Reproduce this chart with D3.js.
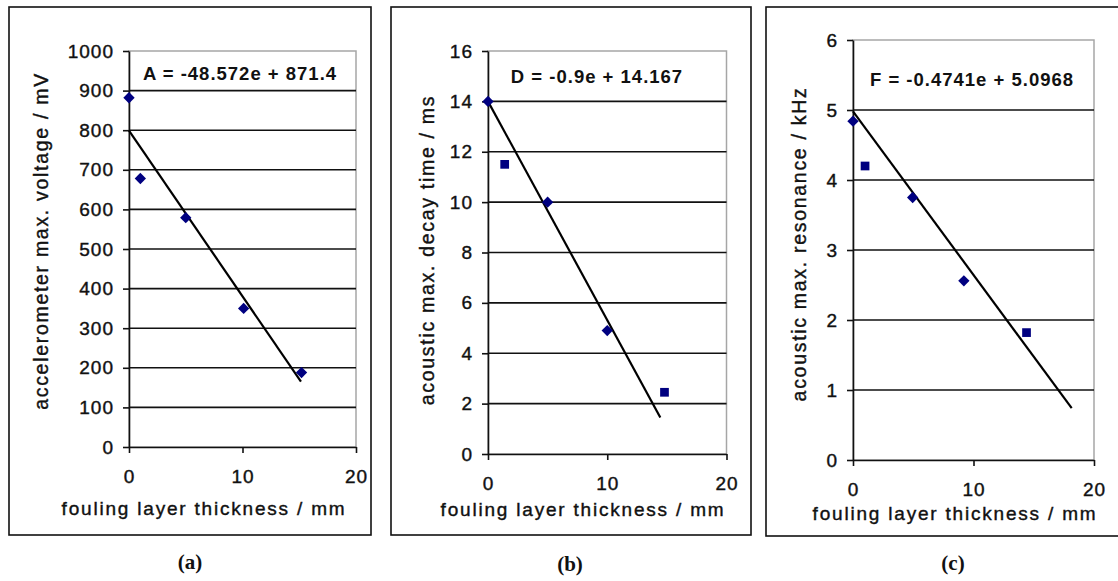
<!DOCTYPE html>
<html>
<head>
<meta charset="utf-8">
<script src="https://cdn.jsdelivr.net/npm/d3@7"></script>
<style>
body{margin:0;background:#fff;}
text{font-family:"Liberation Sans",Arial,sans-serif;fill:#111;}
</style>
</head>
<body>
<script>
// values
var xTicks = [0, 10, 20];

var thicknessA = [0, 1, 5, 10.1, 15.2];
var voltage = [882, 678, 579, 350, 188];
var shapesA = ['diamond', 'diamond', 'diamond', 'diamond', 'diamond'];
var trendAx = [0, 15.15];
var trendAy = [799, 165];
var yTicksA = [0, 100, 200, 300, 400, 500, 600, 700, 800, 900, 1000];

var thicknessB = [0, 1.4, 5, 10, 14.8];
var decayTime = [14, 11.5, 10, 4.9, 2.45];
var shapesB = ['diamond', 'square', 'diamond', 'diamond', 'square'];
var trendBx = [0, 14.45];
var trendBy = [14, 1.45];
var yTicksB = [0, 2, 4, 6, 8, 10, 12, 14, 16];

var thicknessC = [0, 1.0, 4.95, 9.2, 14.4];
var resonance = [4.84, 4.2, 3.75, 2.56, 1.82];
var shapesC = ['diamond', 'square', 'diamond', 'diamond', 'square'];
var trendCx = [0, 18.15];
var trendCy = [4.98, 0.74];
var yTicksC = [0, 1, 2, 3, 4, 5, 6];

var xTitle = 'fouling layer thickness / mm';

//layout of each panel
var panels = [
  {box: [9, 7, 371, 535], plot: [129, 51, 356, 447], xs: thicknessA, ys: voltage, shapes: shapesA,
   tx: trendAx, ty: trendAy, yTicks: yTicksA, eq: 'A = -48.572e + 871.4', eqPos: [240, 80],
   yTitle: 'accelerometer max. voltage / mV', yTitlePos: [48, 241], xTitlePos: [204, 515], xPad: 17,
   caption: '(a)', capPos: [190, 569]},
  {box: [391, 7, 751, 535], plot: [488, 51, 726.5, 454], xs: thicknessB, ys: decayTime, shapes: shapesB,
   tx: trendBx, ty: trendBy, yTicks: yTicksB, eq: 'D = -0.9e + 14.167', eqPos: [597, 83],
   yTitle: 'acoustic max. decay time / ms', yTitlePos: [434, 250], xTitlePos: [583, 515.5], xPad: 17,
   caption: '(b)', capPos: [570, 571]},
  {box: [766, 7, 1130, 536], plot: [853, 40, 1094, 460], xs: thicknessC, ys: resonance, shapes: shapesC,
   tx: trendCx, ty: trendCy, yTicks: yTicksC, eq: 'F = -0.4741e + 5.0968', eqPos: [972, 86],
   yTitle: 'acoustic max. resonance / kHz', yTitlePos: [806, 244], xTitlePos: [955, 520], xPad: 16.5,
   caption: '(c)', capPos: [953, 570]}
];

var svg = d3.select("body").append("svg")
  .attr("width", 1118)
  .attr("height", 581);

var markerPath = function(shape){
  if (shape === 'square')
    return d3.symbol().type(d3.symbolSquare).size(76)();
  return d3.symbol().type(d3.symbolSquare).size(64)();
};

//regular text in the picture is blurred and heavy, a thin stroke thickens it
var heavy = function(sel){
  sel.style("fill", "#111").style("stroke", "#111").style("stroke-width", 0.4);
};

var draw_panel = function(p){
  var g = svg.append("g");
  var left = p.plot[0], top = p.plot[1], right = p.plot[2], bottom = p.plot[3];

  g.append("rect")
    .attr("x", p.box[0]).attr("y", p.box[1])
    .attr("width", p.box[2] - p.box[0]).attr("height", p.box[3] - p.box[1])
    .style("fill", "none").style("stroke", "#111").style("stroke-width", 1.6);

  var x = d3.scaleLinear().domain([0, 20]).range([left, right]);
  var yMax = p.yTicks[p.yTicks.length - 1];
  var y = d3.scaleLinear().domain([0, yMax]).range([bottom, top]);

  //plot area border (grey)
  g.append("rect")
    .attr("x", left).attr("y", top)
    .attr("width", right - left).attr("height", bottom - top)
    .style("fill", "none").style("stroke", "#a6a6a6").style("stroke-width", 1.5);

  //gridlines
  g.selectAll("line.grid")
    .data(p.yTicks.filter(function(d){ return d > 0 && d < yMax; }))
    .enter()
    .append("line")
    .attr("class", "grid")
    .attr("x1", left).attr("x2", right)
    .attr("y1", function(d){ return y(d); })
    .attr("y2", function(d){ return y(d); })
    .style("stroke", "#111").style("stroke-width", 1.6);

  var yAxis = g.append("g")
    .attr("transform", "translate(" + left + ",0)")
    .call(d3.axisLeft(y).tickValues(p.yTicks).tickFormat(d3.format("d"))
      .tickSize(6).tickPadding(9).tickSizeOuter(0));

  var xAxis = g.append("g")
    .attr("transform", "translate(0," + bottom + ")")
    .call(d3.axisBottom(x).tickValues(xTicks).tickFormat(d3.format("d"))
      .tickSize(6).tickPadding(p.xPad).tickSizeOuter(0));

  [yAxis, xAxis].forEach(function(ax){
    ax.select(".domain").style("stroke", "#111").style("stroke-width", 1.6);
    ax.selectAll(".tick line").style("stroke", "#111").style("stroke-width", 1.6);
    ax.selectAll(".tick text")
      .attr("font-family", null)
      .style("font-size", "19px")
      .style("letter-spacing", "1px")
      .call(heavy);
  });

  //trend line
  var line = d3.line()
    .x(function(d){ return x(d[0]); })
    .y(function(d){ return y(d[1]); });
  g.append("path")
    .datum(d3.zip(p.tx, p.ty))
    .attr("d", line)
    .style("fill", "none").style("stroke", "#000").style("stroke-width", 2.2);

  //markers
  g.selectAll("path.pt")
    .data(d3.range(p.xs.length))
    .enter()
    .append("path")
    .attr("class", "pt")
    .attr("d", function(i){ return markerPath(p.shapes[i]); })
    .attr("transform", function(i){
      var t = "translate(" + x(p.xs[i]) + "," + y(p.ys[i]) + ")";
      return p.shapes[i] === 'diamond' ? t + " rotate(45)" : t;
    })
    .style("fill", "#000080");

  g.append("text")
    .attr("x", p.eqPos[0]).attr("y", p.eqPos[1])
    .attr("text-anchor", "middle")
    .style("font-size", "18.5px")
    .style("font-weight", "bold")
    .style("letter-spacing", "1px")
    .text(p.eq);

  g.append("text")
    .attr("x", p.xTitlePos[0]).attr("y", p.xTitlePos[1])
    .attr("text-anchor", "middle")
    .style("font-size", "19px")
    .style("letter-spacing", "1.8px")
    .text(xTitle)
    .call(heavy);

  g.append("text")
    .attr("transform", "translate(" + p.yTitlePos[0] + "," + p.yTitlePos[1] + ") rotate(-90)")
    .attr("text-anchor", "middle")
    .style("font-size", "19.5px")
    .style("letter-spacing", "1.7px")
    .text(p.yTitle)
    .call(heavy);

  g.append("text")
    .attr("x", p.capPos[0]).attr("y", p.capPos[1])
    .attr("text-anchor", "middle")
    .style("font-family", "'Liberation Serif','Times New Roman',serif")
    .style("font-weight", "bold")
    .style("font-size", "21px")
    .text(p.caption);
};

panels.forEach(function(p){
  draw_panel(p);
});
</script>
</body>
</html>
